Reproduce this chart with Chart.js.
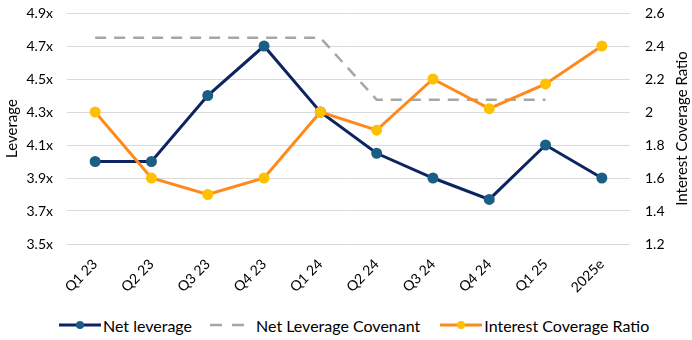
<!DOCTYPE html>
<html><head><meta charset="utf-8">
<script src="https://cdn.jsdelivr.net/npm/chart.js@4/dist/chart.umd.min.js"></script>
<style>
html,body{margin:0;padding:0;background:#fff;}
#wrap{position:relative;width:692px;height:340px;}
#c{position:absolute;left:0;top:0;}
#legend{position:absolute;left:59px;top:315px;height:20px;display:flex;align-items:center;font-family:Lato,"Open Sans",sans-serif;font-size:16px;color:#000;white-space:nowrap;}
.item{display:flex;align-items:center;}
</style>
</head><body>
<div id="wrap"><canvas id="c" width="692" height="312"></canvas><div id="legend"></div></div>
<script>
const categories = ["Q1 23","Q2 23","Q3 23","Q4 23","Q1 24","Q2 24","Q3 24","Q4 24","Q1 25","2025e"];
const netLeverage = [4.0, 4.0, 4.4, 4.7, 4.3, 4.05, 3.9, 3.77, 4.1, 3.9];
const covenant = [4.75, 4.75, 4.75, 4.75, 4.75, 4.375, 4.375, 4.375, 4.375, null];
const interestCoverage = [2.0, 1.6, 1.5, 1.6, 2.0, 1.89, 2.2, 2.02, 2.17, 2.4];
const leftTicks = [3.5, 3.7, 3.9, 4.1, 4.3, 4.5, 4.7, 4.9];
const rightTicks = [1.2, 1.4, 1.6, 1.8, 2.0, 2.2, 2.4, 2.6];

const FONT = 'Lato, "Open Sans", sans-serif';
const NAVY = '#0C2461', NAVY_PT = '#1B5F86', GRAY = '#A6A6A6', ORANGE = '#FF8A1C', YELLOW = '#FFC000';

const rightTitle = {
  id: 'rightTitle',
  afterDraw(chart) {
    const s = chart.scales.y1, ctx = chart.ctx;
    ctx.save();
    ctx.font = '15px ' + FONT;
    ctx.fillStyle = '#000';
    ctx.textAlign = 'center';
    ctx.textBaseline = 'middle';
    ctx.translate(s.right - 10, (s.top + s.bottom) / 2);
    ctx.rotate(-Math.PI / 2);
    ctx.fillText('Interest Coverage Ratio', 0, 0);
    ctx.restore();
  }
};

new Chart(document.getElementById('c'), {
  type: 'line',
  data: {
    labels: categories,
    datasets: [
      {label: 'Net leverage', data: netLeverage, yAxisID: 'y', order: 2,
       borderColor: NAVY, borderWidth: 3, pointBackgroundColor: NAVY_PT, pointBorderColor: NAVY_PT,
       pointRadius: 4, pointHoverRadius: 4, tension: 0},
      {label: 'Net Leverage Covenant', data: covenant, yAxisID: 'y', order: 3,
       borderColor: GRAY, borderWidth: 2.5, borderDash: [11, 8], pointRadius: 0, tension: 0, spanGaps: false},
      {label: 'Interest Coverage Ratio', data: interestCoverage, yAxisID: 'y1', order: 1,
       borderColor: ORANGE, borderWidth: 3, pointBackgroundColor: YELLOW, pointBorderColor: YELLOW,
       pointRadius: 4, pointHoverRadius: 4, tension: 0}
    ]
  },
  options: {
    responsive: false, animation: false,
    layout: {padding: {top: 13, bottom: 0, left: 0, right: 0}},
    plugins: {legend: {display: false}, tooltip: {enabled: false}},
    scales: {
      x: {
        offset: true,
        grid: {display: false, drawTicks: false},
        border: {display: false},
        ticks: {minRotation: 45, maxRotation: 45, padding: 12, color: '#000', font: {family: FONT, size: 14}},
        afterFit(s) { s.height = 68; }
      },
      y: {
        position: 'left', min: 3.5, max: 4.9,
        afterBuildTicks(s) { s.ticks = leftTicks.map(v => ({value: v})); },
        grid: {color: '#D9D9D9', lineWidth: 1, drawTicks: false},
        border: {display: false},
        ticks: {padding: 14, color: '#000', font: {family: FONT, size: 14},
                callback: v => v.toFixed(1) + 'x'},
        title: {display: true, text: 'Leverage', color: '#000', font: {family: FONT, size: 15}, padding: {top: 3, bottom: 0}},
        afterFit(s) { s.width = 67; s.paddingTop = 0; s.paddingBottom = 0; }
      },
      y1: {
        position: 'right', min: 1.2, max: 2.6,
        afterBuildTicks(s) { s.ticks = rightTicks.map(v => ({value: v})); },
        grid: {display: false, drawTicks: false},
        border: {display: false},
        ticks: {padding: 15, color: '#000', font: {family: FONT, size: 14},
                callback: v => (Math.round(v * 10) / 10).toString()},
        afterFit(s) { s.width = 62; s.paddingTop = 0; s.paddingBottom = 0; }
      }
    }
  },
  plugins: [rightTitle]
});

// HTML legend
const legendItems = [
  {text: 'Net leverage', line: NAVY, pt: NAVY_PT, dash: null, gapAfter: 18},
  {text: 'Net Leverage Covenant', line: GRAY, pt: null, dash: [12, 10], gapAfter: 20},
  {text: 'Interest Coverage Ratio', line: ORANGE, pt: YELLOW, dash: null, gapAfter: 0}
];
const lg = document.getElementById('legend');
legendItems.forEach(it => {
  const d = document.createElement('div'); d.className = 'item';
  d.style.marginRight = it.gapAfter + 'px';
  const w = it.dash ? 34 : 42;
  const cv = document.createElement('canvas'); cv.width = w; cv.height = 12;
  cv.style.marginRight = (it.dash ? 12 : 2) + 'px';
  const x = cv.getContext('2d');
  x.strokeStyle = it.line; x.lineWidth = it.dash ? 2.5 : 3;
  if (it.dash) x.setLineDash(it.dash);
  x.beginPath(); x.moveTo(0, 6); x.lineTo(w, 6); x.stroke();
  if (it.pt) { x.fillStyle = it.pt; x.beginPath(); x.arc(w / 2, 6, 4, 0, Math.PI * 2); x.fill(); }
  const sp = document.createElement('span'); sp.textContent = it.text;
  d.appendChild(cv); d.appendChild(sp); lg.appendChild(d);
});
</script>
</body></html>
